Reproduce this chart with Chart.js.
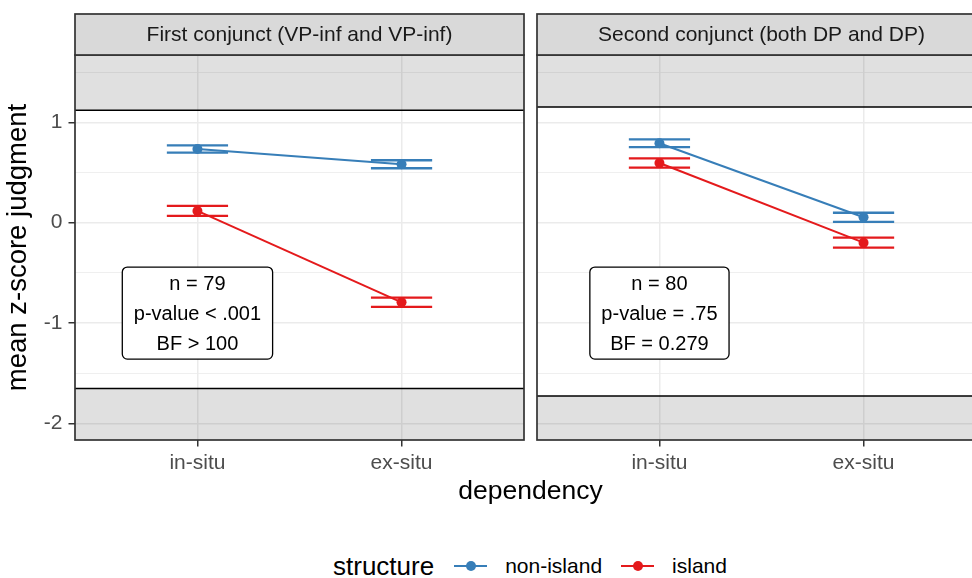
<!DOCTYPE html>
<html>
<head>
<meta charset="utf-8">
<script src="https://cdn.jsdelivr.net/npm/chart.js@4.4.1/dist/chart.umd.min.js"></script>
<style>
  html, body { margin: 0; padding: 0; background: #fff; }
  body { width: 972px; height: 578px; overflow: hidden; position: relative; font-family: "Liberation Sans", Arial, sans-serif; }
  canvas { position: absolute; top: 0; }
  #chart1 { left: 0; }
  #chart2 { left: 531px; }
  #xtitle { position: absolute; left: 0; width: 1061px; top: 477px; text-align: center; font-size: 26.5px; line-height: 26px; color: #000; }
  #legend { position: absolute; left: 333px; top: 548px; height: 36px; display: flex; align-items: center; white-space: nowrap; }
  #legend .ltitle { font-size: 26px; color: #000; margin-right: 20px; }
  #legend .key { position: relative; width: 33px; height: 20px; margin-right: 18px; }
  #legend .key .ln { position: absolute; left: 0; right: 0; top: 9px; height: 2px; }
  #legend .key .pt { position: absolute; left: 11.5px; top: 5px; width: 10px; height: 10px; border-radius: 50%; }
  #legend .ltext { font-size: 21px; color: #000; margin-right: 19px; }
</style>
</head>
<body>
<canvas id="chart1" width="530" height="480"></canvas>
<canvas id="chart2" width="461" height="480"></canvas>
<div id="xtitle">dependency</div>
<div id="legend"></div>
<script>
// categories and panels
const categories = ["in-situ", "ex-situ"];
const panelTitles = ["First conjunct (VP-inf and VP-inf)", "Second conjunct (both DP and DP)"];
const seriesNames = ["non-island", "island"];
const seriesColors = ["#377EB8", "#E41A1C"];

// means and error half-widths
const firstNonIsland = [0.734, 0.582];
const firstNonIslandErr = [0.037, 0.04];
const firstIsland = [0.117, -0.793];
const firstIslandErr = [0.05, 0.046];
const secondNonIsland = [0.791, 0.054];
const secondNonIslandErr = [0.038, 0.045];
const secondIsland = [0.595, -0.199];
const secondIslandErr = [0.046, 0.05];

// unshaded band per panel (lower, upper)
const firstBand = [-1.65, 1.12];
const secondBand = [-1.726, 1.152];

// stats boxes
const firstStats = ["n = 79", "p-value < .001", "BF > 100"];
const secondStats = ["n = 80", "p-value = .75", "BF = 0.279"];
const statsY = -0.9;

// axes
const yTicks = [-2, -1, 0, 1];
const yMinorTicks = [-1.5, -0.5, 0.5, 1.5];
const yMin = -2.164;
const yMax = 1.67;
const xMin = -0.6;
const xMax = 1.6;

Chart.defaults.font.family = "'Liberation Sans', Arial, sans-serif";

const facetPlugin = {
  id: "facet",
  beforeDatasetsDraw(chart, args, opts) {
    const { ctx, chartArea: a, scales: { x, y } } = chart;
    ctx.save();
    // shaded regions outside the band
    const yLo = y.getPixelForValue(opts.band[0]);
    const yHi = y.getPixelForValue(opts.band[1]);
    ctx.fillStyle = "rgba(0,0,0,0.12)";
    ctx.fillRect(a.left, a.top, a.right - a.left, yHi - a.top);
    ctx.fillRect(a.left, yLo, a.right - a.left, a.bottom - yLo);
    ctx.strokeStyle = "#000";
    ctx.lineWidth = 1.5;
    ctx.beginPath();
    ctx.moveTo(a.left, yHi); ctx.lineTo(a.right, yHi);
    ctx.moveTo(a.left, yLo); ctx.lineTo(a.right, yLo);
    ctx.stroke();
    // error bars
    chart.data.datasets.forEach((ds) => {
      ctx.strokeStyle = ds.borderColor;
      ctx.lineWidth = 2.3;
      ds.data.forEach((p, i) => {
        const e = ds.errors[i];
        const xl = x.getPixelForValue(p.x - 0.15);
        const xr = x.getPixelForValue(p.x + 0.15);
        const xc = x.getPixelForValue(p.x);
        const yt = y.getPixelForValue(p.y + e);
        const yb = y.getPixelForValue(p.y - e);
        ctx.beginPath();
        ctx.moveTo(xl, yt); ctx.lineTo(xr, yt);
        ctx.moveTo(xl, yb); ctx.lineTo(xr, yb);
        ctx.moveTo(xc, yt); ctx.lineTo(xc, yb);
        ctx.stroke();
      });
    });
    ctx.restore();
  },
  afterDatasetsDraw(chart, args, opts) {
    const { ctx, chartArea: a, scales: { x, y } } = chart;
    ctx.save();
    // stats label box
    ctx.font = "20px 'Liberation Sans', Arial, sans-serif";
    const w = Math.max(...opts.stats.map((t) => ctx.measureText(t).width)) + 23;
    const h = 92;
    const cx = x.getPixelForValue(0);
    const cy = y.getPixelForValue(statsY);
    ctx.fillStyle = "#fff";
    ctx.strokeStyle = "#000";
    ctx.lineWidth = 1.3;
    ctx.beginPath();
    ctx.roundRect(cx - w / 2, cy - h / 2, w, h, 5);
    ctx.fill();
    ctx.stroke();
    ctx.fillStyle = "#000";
    ctx.textAlign = "center";
    ctx.textBaseline = "middle";
    opts.stats.forEach((t, i) => ctx.fillText(t, cx, cy + (i - 1) * 30 + 1));
    // panel border
    ctx.strokeStyle = "#333";
    ctx.lineWidth = 1.7;
    ctx.strokeRect(a.left, a.top, a.right - a.left, a.bottom - a.top);
    // strip
    ctx.fillStyle = "#D9D9D9";
    ctx.fillRect(a.left, 14, a.right - a.left, a.top - 14);
    ctx.strokeRect(a.left, 14, a.right - a.left, a.top - 14);
    ctx.fillStyle = "#1A1A1A";
    ctx.font = "21px 'Liberation Sans', Arial, sans-serif";
    ctx.fillText(opts.title, (a.left + a.right) / 2, (14 + a.top) / 2 + 1);
    ctx.restore();
  },
};

function makeDataset(name, color, values, errors) {
  return {
    label: name,
    data: values.map((v, i) => ({ x: i, y: v })),
    errors: errors,
    borderColor: color,
    backgroundColor: color,
    borderWidth: 2,
    pointRadius: 5,
    pointHoverRadius: 5,
    pointBorderWidth: 0,
  };
}

function makeChart(canvasId, title, datasets, band, stats, isFirst) {
  return new Chart(document.getElementById(canvasId), {
    type: "line",
    data: { datasets: datasets },
    options: {
      responsive: false,
      animation: false,
      layout: { padding: { top: 55, right: 6, left: 0, bottom: 0 } },
      plugins: {
        legend: { display: false },
        tooltip: { enabled: false },
        facet: { band: band, stats: stats, title: title },
      },
      scales: {
        x: {
          type: "linear",
          min: xMin,
          max: xMax,
          afterBuildTicks: (scale) => {
            scale.ticks = categories.map((c, i) => ({ value: i }));
          },
          afterFit: (scale) => {
            scale.height = 40;
          },
          ticks: {
            callback: (v) => categories[Math.round(v)],
            font: { size: 21 },
            color: "#4D4D4D",
            padding: 4,
            maxRotation: 0,
          },
          grid: {
            color: "#EBEBEB",
            lineWidth: 1.5,
            tickLength: 6.5,
            tickColor: "#333",
            tickWidth: 1.5,
          },
          border: { display: false },
        },
        y: {
          type: "linear",
          min: yMin,
          max: yMax,
          afterBuildTicks: (scale) => {
            scale.ticks = yTicks.concat(yMinorTicks).sort((a, b) => a - b).map((v) => ({ value: v }));
          },
          afterFit: (scale) => {
            scale.width = isFirst ? 75 : 6;
          },
          title: {
            display: isFirst,
            text: "mean z-score judgment",
            font: { size: 27.5 },
            color: "#000",
            padding: { top: 2, bottom: 0 },
          },
          ticks: {
            display: isFirst,
            callback: (v) => (yTicks.includes(v) ? String(v) : ""),
            font: { size: 21 },
            color: "#4D4D4D",
            padding: 6,
          },
          grid: {
            color: "#EBEBEB",
            lineWidth: (ctx) => (yTicks.includes(ctx.tick.value) ? 1.5 : 0.8),
            drawTicks: isFirst,
            tickLength: 6.5,
            tickColor: (ctx) => (yTicks.includes(ctx.tick.value) ? "#333" : "rgba(0,0,0,0)"),
            tickWidth: 1.5,
          },
          border: { display: false },
        },
      },
    },
    plugins: [facetPlugin],
  });
}

makeChart("chart1", panelTitles[0], [
  makeDataset(seriesNames[0], seriesColors[0], firstNonIsland, firstNonIslandErr),
  makeDataset(seriesNames[1], seriesColors[1], firstIsland, firstIslandErr),
], firstBand, firstStats, true);

makeChart("chart2", panelTitles[1], [
  makeDataset(seriesNames[0], seriesColors[0], secondNonIsland, secondNonIslandErr),
  makeDataset(seriesNames[1], seriesColors[1], secondIsland, secondIslandErr),
], secondBand, secondStats, false);

// legend
const legend = document.getElementById("legend");
let html = '<span class="ltitle">structure</span>';
seriesNames.forEach((name, i) => {
  html += '<span class="key"><span class="ln" style="background:' + seriesColors[i] + '"></span>' +
    '<span class="pt" style="background:' + seriesColors[i] + '"></span></span>' +
    '<span class="ltext">' + name + "</span>";
});
legend.innerHTML = html;
</script>
</body>
</html>
